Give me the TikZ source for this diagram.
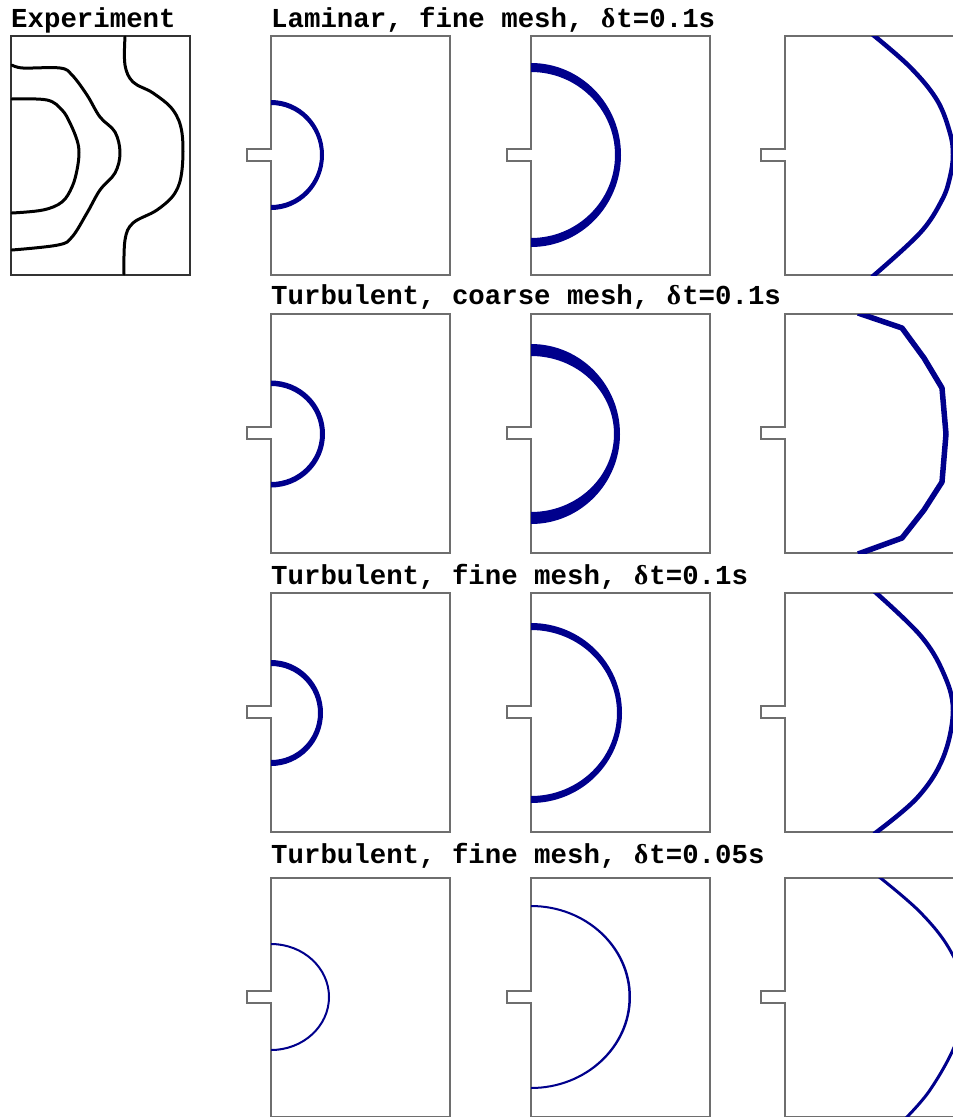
\documentclass[tikz,border=0pt]{standalone}
\usepackage{fontspec}
\setmonofont{Liberation Mono}
\newfontfamily\greekfont{Liberation Serif}
\definecolor{frontblue}{RGB}{0,0,140}
\definecolor{wallgray}{RGB}{110,110,110}
\newcommand\dlt{\makebox[0.6em]{\greekfont δ}}
\newcommand\chamber[2]{%
  \draw[wall] (#1,#2) -- (#1,#2+113) -- (#1-24,#2+113) -- (#1-24,#2+125) -- (#1,#2+125)
    -- (#1,#2+239) -- (#1+179,#2+239) -- (#1+179,#2) -- cycle;}
\newcommand\flame[6]{%
  \fill[front] (#1,#2-#4) arc[start angle=-90, end angle=90, x radius=#3, y radius=#4]
    -- (#1,#2+#6) arc[start angle=90, end angle=-90, x radius=#5, y radius=#6] -- cycle;}
\begin{document}
\begin{tikzpicture}[x=1pt, y=-1pt,
  wall/.style = {draw=wallgray, line width=1.3pt, line join=miter},
  front/.style = {fill=frontblue, draw=none},
  edge/.style = {draw=frontblue, line width=4.5pt},
  iso/.style = {draw=black, line width=3pt, line cap=round, line join=round},
  title/.style = {anchor=base west, inner sep=0pt, font=\fontsize{27.4}{30}\ttfamily\bfseries}]
  \clip (0,0) rectangle (953,1117);
  \fill[white] (0,0) rectangle (953,1117);
  \node[title] (exp) at (11,27) {Experiment};
  \node[title] (lam) at (271,27) {Laminar, fine mesh, \dlt t=0.1s};
  \node[title] (coarse) at (271,304) {Turbulent, coarse mesh, \dlt t=0.1s};
  \node[title] (fine) at (271,584) {Turbulent, fine mesh, \dlt t=0.1s};
  \node[title] (half) at (271,863) {Turbulent, fine mesh, \dlt t=0.05s};
  \draw[draw=black!80, line width=1.2pt] (11,36) rectangle (190,275);
  \draw[iso] plot[smooth, tension=0.6] coordinates {(12,99) (47,100) (62,110) (70,123) (77,140) (79,153) (77,170) (72,187) (62,202) (43,210) (12,213)};
  \draw[iso] plot[smooth, tension=0.6] coordinates {(12,65) (23,68) (60,68) (72,75) (87,95) (100,117) (115,132) (120,153) (115,173) (100,190) (87,213) (72,237) (58,245) (12,250)};
  \draw[iso] plot[smooth, tension=0.6] coordinates {(125,37) (125,65) (133,82) (153,93) (173,110) (182,133) (182,170) (175,193) (157,210) (133,223) (125,240) (124,274)};
  \foreach \y in {36,314,593,878}
    \foreach \x in {271,531,785}
      \chamber{\x}{\y};
  \flame{271}{155}{53}{55}{49}{50}
  \flame{531}{155}{90}{92}{84}{83}
  \flame{271}{434}{54}{53.5}{49}{48}
  \flame{531}{434}{89}{90}{83}{78}
  \flame{271}{713}{52}{53}{47}{47}
  \flame{531}{713}{91}{90}{86}{83}
  \flame{271}{997}{59}{54}{57}{52}
  \flame{531}{997}{100}{92}{97.5}{90}
  \begin{scope}
    \clip (785,36) rectangle (964,275);
    \draw[edge] plot[smooth, tension=0.6] coordinates {(872,34) (910,67) (937,100) (950,133) (953,155) (950,177) (942,200) (920,233) (872,277)};
  \end{scope}
  \begin{scope}
    \clip (785,314) rectangle (964,553);
    \draw[edge, line width=5.5pt, line join=round] (858,313) -- (902,328) -- (924,358) -- (942,388) -- (946,434) -- (942,482) -- (924,510) -- (902,538) -- (858,554);
  \end{scope}
  \begin{scope}
    \clip (785,593) rectangle (964,832);
    \draw[edge] plot[smooth, tension=0.6] coordinates {(874,591) (920,635) (943,672) (953,710) (943,758) (917,798) (874,834)};
  \end{scope}
  \begin{scope}
    \clip (785,878) rectangle (964,1117);
    \draw[edge, line width=3pt] plot[smooth, tension=0.6] coordinates {(878,876) (920,912) (950,950) (968,997) (955,1045) (930,1090) (905,1119)};
  \end{scope}
\end{tikzpicture}
\end{document}
